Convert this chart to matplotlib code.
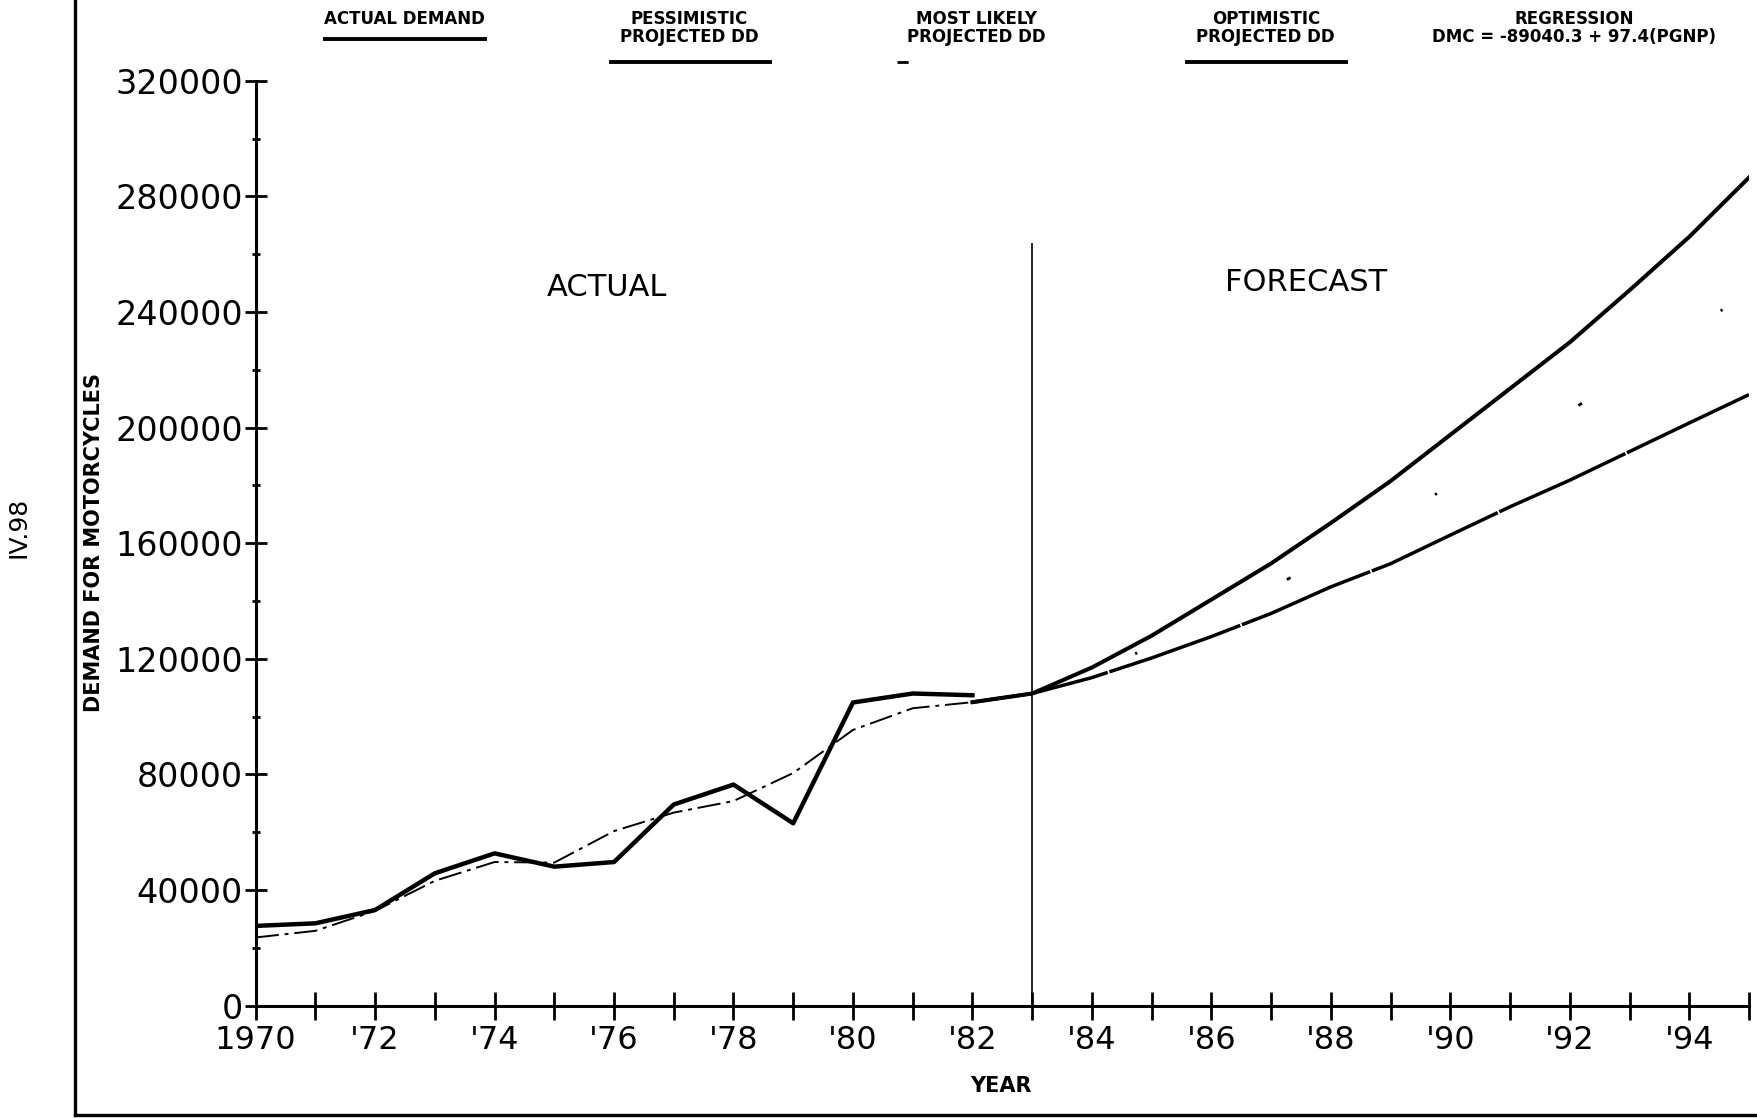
import matplotlib
matplotlib.use("Agg")
import matplotlib.pyplot as plt
from matplotlib.lines import Line2D
from matplotlib.ticker import MultipleLocator

# --- data -------------------------------------------------------------
years_actual = [1970, 1971, 1972, 1973, 1974, 1975, 1976, 1977, 1978, 1979, 1980, 1981, 1982]
actual_demand = [27600, 28500, 33100, 45800, 52700, 48100, 49700, 69600, 76500, 63100, 104900, 108000, 107400]

# regression fit over the historical period
fit_demand = [23600, 25900, 32800, 43200, 49700, 49500, 60400, 66800, 70800, 80500, 95400, 102900, 105000]

years_proj = [1982, 1983, 1984, 1985, 1986, 1987, 1988, 1989, 1990, 1991, 1992, 1993, 1994, 1995]
optimistic = [105000, 108000, 117000, 128000, 140500, 153000, 167000, 181500, 197500, 213500, 229500, 247500, 266000, 286500]
most_likely = [105000, 108000, 115300, 124200, 134000, 144300, 156000, 167200, 180100, 193000, 205600, 219600, 233000, 247000]
pessimistic = [105000, 108000, 113500, 120300, 127700, 135700, 144900, 152900, 162800, 172600, 181800, 191700, 201600, 211400]

year_ticks = list(range(1970, 1996))
year_labels = ["1970" if y == 1970 else ("'%02d" % (y % 100) if y % 2 == 0 else "") for y in year_ticks]
demand_ticks = list(range(0, 320001, 40000))

W, H = 1758, 1118
fig = plt.figure(figsize=(W / 100, H / 100), dpi=100)
fig.patch.set_facecolor("white")

def fx(x):
    return x / W

def fy(y):
    return 1 - y / H

ax = fig.add_axes([fx(255.6), fy(1005.7), fx(1749) - fx(255.6), fy(80.7) - fy(1005.7)])

HEAD = ["Liberation Sans Narrow", "DejaVu Sans"]

ax.plot(years_actual, actual_demand, color="black", lw=3.2, solid_joinstyle="round")
ax.plot(years_actual, fit_demand, color="black", lw=1.4, dashes=(12, 3, 2, 3))
ax.plot(years_proj, optimistic, color="black", lw=2.9, solid_joinstyle="round")
ax.plot(years_proj, pessimistic, color="black", lw=2.5, dashes=(40, 0.5), dash_joinstyle="round")
ax.plot(years_proj, most_likely, color="black", lw=2.0, dashes=(1.5, 60, 0.8, 60))

# actual / forecast divider
ax.vlines(1983, 0, 264000, color="black", lw=1.2)

ax.set_xlim(1970, 1995)
ax.set_ylim(0, 320000)
ax.set_xticks(year_ticks)
ax.set_xticklabels(year_labels, fontsize=23, family="DejaVu Sans")
ax.set_yticks(demand_ticks)
ax.set_yticklabels([str(v) for v in demand_ticks], fontsize=24, family="DejaVu Sans")
ax.yaxis.set_minor_locator(MultipleLocator(20000))

for side in ["top", "right"]:
    ax.spines[side].set_visible(False)
for side in ["left", "bottom"]:
    ax.spines[side].set_linewidth(2.2)

ax.tick_params(axis="y", which="major", direction="inout", length=16, width=2, pad=1)
ax.tick_params(axis="y", which="minor", direction="inout", length=6, width=2)
ax.tick_params(axis="x", which="major", direction="inout", length=20, width=2, pad=4)

fig.text(fx(607), fy(288), "ACTUAL", ha="center", va="center", fontsize=22)
fig.text(fx(1306), fy(283), "FORECAST", ha="center", va="center", fontsize=22)

fig.text(fx(94), fy(543), "DEMAND FOR MOTORCYCLES", rotation=90, ha="center", va="center",
         fontsize=15, fontweight="bold", family=HEAD)
fig.text(fx(1001), fy(1086), "YEAR", ha="center", va="center",
         fontsize=15, fontweight="bold", family=HEAD)
fig.text(fx(19), fy(527), "IV.98", rotation=90, ha="center", va="center", fontsize=18)

# header key
headers = [
    (404.8, "ACTUAL DEMAND"),
    (689.5, "PESSIMISTIC\nPROJECTED DD"),
    (976.6, "MOST LIKELY\nPROJECTED DD"),
    (1265.8, "OPTIMISTIC\nPROJECTED DD"),
    (1574.5, "REGRESSION\nDMC = -89040.3 + 97.4(PGNP)"),
]
for cx, label in headers:
    fig.text(fx(cx), fy(10), label, ha="center", va="top", fontsize=12,
             fontweight="bold", family=HEAD, linespacing=1.0)

key_lines = [
    ((325, 485.5), 39.2, dict(lw=2.8)),
    ((611, 770), 61.7, dict(lw=2.8)),
    ((897, 1060), 61.7, dict(lw=2.0, dashes=(4, 55, 0.8, 55))),
    ((1187, 1346.5), 61.7, dict(lw=2.8)),
]
for (x0, x1), y, style in key_lines:
    fig.add_artist(Line2D([fx(x0), fx(x1)], [fy(y), fy(y)], color="black",
                          transform=fig.transFigure, **style))

# page border
fig.add_artist(Line2D([fx(75), fx(75)], [fy(0), fy(1115)], color="black", lw=2.4,
                      transform=fig.transFigure))
fig.add_artist(Line2D([fx(75), fx(W)], [fy(1115), fy(1115)], color="black", lw=2.4,
                      transform=fig.transFigure))

fig.savefig("out.png", dpi=100, facecolor="white")
